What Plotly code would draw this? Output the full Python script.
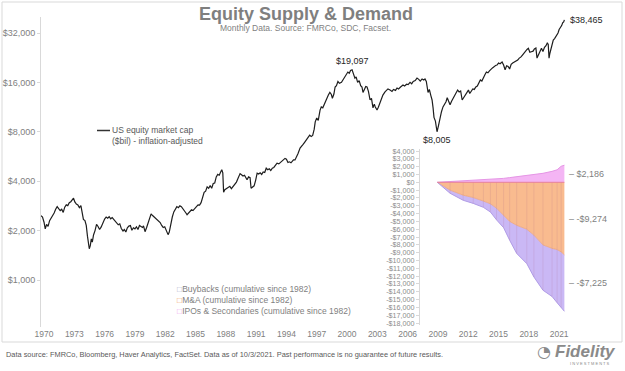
import math
import plotly.graph_objects as go

# ------------------------------------------------------------------ data
mkt_years = [
    1969.70, 1969.85, 1970.00, 1970.12, 1970.25, 1970.40, 1970.55, 1970.70, 1970.85, 1971.00,
    1971.15, 1971.30, 1971.45, 1971.60, 1971.75, 1971.90, 1972.05, 1972.20, 1972.35, 1972.50,
    1972.65, 1972.80, 1972.92, 1973.05, 1973.20, 1973.35, 1973.50, 1973.65, 1973.78, 1973.90,
    1974.05, 1974.18, 1974.30, 1974.40, 1974.48, 1974.58, 1974.68, 1974.78, 1974.90, 1975.05,
    1975.20, 1975.35, 1975.50, 1975.65, 1975.85, 1976.00, 1976.15, 1976.30, 1976.45, 1976.60,
    1976.75, 1976.90, 1977.05, 1977.20, 1977.35, 1977.50, 1977.65, 1977.82, 1977.95, 1978.10,
    1978.25, 1978.40, 1978.55, 1978.70, 1978.85, 1979.00, 1979.15, 1979.30, 1979.45, 1979.60,
    1979.75, 1979.85, 1980.00, 1980.15, 1980.30, 1980.45, 1980.60, 1980.75, 1980.90, 1981.05,
    1981.20, 1981.35, 1981.50, 1981.65, 1981.80, 1981.95, 1982.10, 1982.28, 1982.40, 1982.55,
    1982.70, 1982.85, 1983.00, 1983.15, 1983.30, 1983.45, 1983.60, 1983.75, 1983.90, 1984.05,
    1984.16, 1984.30, 1984.45, 1984.60, 1984.75, 1984.90, 1985.05, 1985.25, 1985.40, 1985.55,
    1985.70, 1985.85, 1986.00, 1986.15, 1986.30, 1986.45, 1986.60, 1986.75, 1986.90, 1987.05,
    1987.20, 1987.35, 1987.50, 1987.60, 1987.70, 1987.78, 1987.90, 1988.05, 1988.20, 1988.40,
    1988.55, 1988.70, 1988.90, 1989.05, 1989.20, 1989.41, 1989.55, 1989.70, 1989.85, 1990.00,
    1990.10, 1990.25, 1990.40, 1990.50, 1990.65, 1990.80, 1990.95, 1991.10, 1991.25, 1991.40,
    1991.55, 1991.70, 1991.85, 1992.00, 1992.15, 1992.30, 1992.45, 1992.60, 1992.75, 1992.90,
    1993.07, 1993.25, 1993.40, 1993.55, 1993.70, 1993.86, 1994.00, 1994.15, 1994.30, 1994.45,
    1994.55, 1994.70, 1994.85, 1995.00, 1995.15, 1995.35, 1995.50, 1995.65, 1995.80, 1996.00,
    1996.15, 1996.30, 1996.45, 1996.60, 1996.75, 1996.85, 1997.00, 1997.15, 1997.33, 1997.45,
    1997.60, 1997.75, 1997.90, 1998.02, 1998.15, 1998.30, 1998.45, 1998.55, 1998.70, 1998.82,
    1998.95, 1999.10, 1999.25, 1999.45, 1999.60, 1999.80, 1999.95, 2000.08, 2000.22, 2000.35,
    2000.50, 2000.62, 2000.78, 2000.90, 2001.05, 2001.20, 2001.35, 2001.48, 2001.58, 2001.72,
    2001.85, 2001.98, 2002.12, 2002.28, 2002.42, 2002.57, 2002.70, 2002.80, 2002.97, 2003.10,
    2003.27, 2003.40, 2003.55, 2003.76, 2003.90, 2004.05, 2004.26, 2004.45, 2004.60, 2004.80,
    2004.95, 2005.10, 2005.30, 2005.54, 2005.70, 2005.90, 2006.05, 2006.24, 2006.40, 2006.55,
    2006.75, 2006.93, 2007.10, 2007.25, 2007.43, 2007.60, 2007.72, 2007.85, 2008.02, 2008.15,
    2008.30, 2008.42, 2008.52, 2008.61, 2008.75, 2008.91, 2009.05, 2009.21, 2009.35, 2009.50,
    2009.65, 2009.80, 2009.92, 2010.05, 2010.20, 2010.35, 2010.50, 2010.65, 2010.80, 2010.95,
    2011.10, 2011.25, 2011.40, 2011.55, 2011.70, 2011.88, 2012.02, 2012.15, 2012.30, 2012.45,
    2012.60, 2012.75, 2012.90, 2013.05, 2013.20, 2013.35, 2013.50, 2013.65, 2013.80, 2013.95,
    2014.10, 2014.25, 2014.40, 2014.55, 2014.70, 2014.85, 2015.00, 2015.15, 2015.35, 2015.50,
    2015.65, 2015.80, 2015.95, 2016.10, 2016.25, 2016.40, 2016.55, 2016.70, 2016.90, 2017.05,
    2017.20, 2017.35, 2017.50, 2017.65, 2017.82, 2017.95, 2018.10, 2018.25, 2018.42, 2018.55,
    2018.70, 2018.81, 2018.95, 2019.10, 2019.25, 2019.40, 2019.55, 2019.70, 2019.82, 2019.92,
    2020.00, 2020.08, 2020.20, 2020.30, 2020.42, 2020.55, 2020.70, 2020.89, 2021.00, 2021.12,
    2021.25, 2021.35, 2021.45, 2021.52,
]
mkt_values = [
    2470, 2420, 2250, 2050, 2180, 2120, 2300, 2380, 2450, 2560,
    2700, 2800, 2720, 2650, 2700, 2580, 2780, 2870, 2840, 2960,
    3000, 3080, 3150, 2990, 2900, 2870, 2760, 2840, 2600, 2340,
    2300, 2150, 1850, 1700, 1550, 1620, 1780, 1700, 1880, 2000,
    2180, 2120, 2030, 2100, 2270, 2350, 2420, 2380, 2430, 2360,
    2400, 2330, 2270, 2230, 2170, 2200, 2060, 1990, 2030, 1960,
    2080, 2130, 2150, 2010, 2080, 2050, 2110, 2030, 2150, 2120,
    2090, 2140, 1970, 2080, 2240, 2380, 2530, 2470, 2420, 2380,
    2340, 2300, 2240, 2150, 2090, 2110, 2000, 1890, 1960, 2250,
    2420, 2600, 2700, 2800, 2760, 2830, 2800, 2720, 2680, 2560,
    2500, 2560, 2620, 2680, 2650, 2700, 2780, 2870, 2860, 2960,
    3200, 3420, 3480, 3700, 3620, 3760, 3620, 3870, 3900, 4250,
    4400, 4350, 4560, 4700, 4500, 3430, 3550, 3600, 3650, 3720,
    3600, 3700, 3800, 3950, 4150, 4450, 4380, 4300, 4350, 4150,
    4080, 4250, 4200, 3620, 3700, 3750, 4050, 4480, 4420, 4500,
    4400, 4550, 4520, 4800, 4700, 4760, 4650, 4800, 4850, 5000,
    5150, 5100, 5200, 5250, 5350, 5510, 5450, 5200, 5250, 5180,
    5260, 5400, 5390, 5600, 5900, 6360, 6500, 6700, 6900, 7150,
    7400, 7640, 7500, 7600, 8300, 9200, 9700, 9400, 10850, 11340,
    11200, 11800, 12200, 13000, 13400, 13900, 13500, 12800, 13600, 15000,
    15300, 16200, 15800, 16000, 16600, 17250, 18000, 18500, 18200, 18900,
    19097, 18300, 17000, 17300, 16000, 16400, 15300, 15000, 13900, 14500,
    15100, 15000, 14100, 12500, 12800, 11200, 11800, 11340, 10850, 11300,
    12000, 12600, 13400, 14000, 14200, 14600, 14370, 14100, 14500, 14300,
    14800, 14600, 15000, 15430, 15200, 15600, 15500, 16000, 15700, 16200,
    16400, 17000, 16700, 16300, 16800, 16550, 16800, 16200, 13900, 14500,
    13300, 12500, 11200, 9800, 9300, 8005, 8700, 9800, 10600, 11340,
    11700, 12200, 12900, 12300, 11700, 12300, 12800, 13200, 14000, 14370,
    14000, 14200, 12500, 12900, 13400, 13800, 14370, 13700, 14100, 14600,
    14500, 15000, 15200, 15800, 16550, 16300, 17200, 17800, 18500, 18300,
    18800, 19300, 19600, 19900, 20300, 20400, 21000, 20800, 21300, 20400,
    19100, 20200, 20000, 19300, 20600, 21000, 21200, 21500, 21900, 22500,
    22800, 23400, 24150, 24800, 25400, 25800, 24400, 24600, 24800, 25600,
    25900, 22500, 23600, 24800, 25800, 24700, 26200, 26800, 27800, 27300,
    22500, 24000, 26000, 27600, 29000, 29600, 30500, 32000, 33600, 34300,
    35500, 36900, 37400, 38465,
]

inset_years = [2008.94, 2010.20, 2011.50, 2012.50, 2013.50, 2014.20, 2014.80, 2015.50, 2016.10,
               2016.80, 2017.80, 2018.50, 2019.40, 2020.30, 2020.80, 2021.20, 2021.52]
ipo_values = [0, 80, 150, 250, 330, 400, 450, 500, 600, 700, 900, 1000, 1150, 1400, 1600, 2050, 2186]
mna_values = [0, -1000, -1650, -1950, -2400, -2750, -3300, -4200, -5000, -5500, -6000, -6750,
              -8000, -8450, -8600, -8900, -9274]
buyback_values = [0, -400, -650, -750, -800, -1050, -1500, -1600, -2400, -3600, -4400, -5350,
                  -5800, -6150, -6800, -7100, -7225]

x_tick_vals = [1970, 1973, 1976, 1979, 1982, 1985, 1988, 1991, 1994, 1997, 2000, 2003, 2006,
               2009, 2012, 2015, 2018, 2021]
x_tick_text = ["1970", "1973", "1976", "1979", "1982", "1985", "1988", "1991", "1994", "1997",
               "2000", "2003", "2006", "2009", "2012", "2015", "2018", "2021"]
y_tick_vals = [1000, 2000, 4000, 8000, 16000, 32000]
y_tick_text = ["$1,000", "$2,000", "$4,000", "$8,000", "$16,000", "$32,000"]
inset_tick_vals = [4000, 3000, 2000, 1000, 0, -1000, -2000, -3000, -4000, -5000, -6000, -7000,
                   -8000, -9000, -10000, -11000, -12000, -13000, -14000, -15000, -16000,
                   -17000, -18000]
inset_tick_text = ["$4,000", "$3,000", "$2,000", "$1,000", "$0", "-$1,000", "-$2,000", "-$3,000",
                   "-$4,000", "-$5,000", "-$6,000", "-$7,000", "-$8,000", "-$9,000", "-$10,000",
                   "-$11,000", "-$12,000", "-$13,000", "-$14,000", "-$15,000", "-$16,000",
                   "-$17,000", "-$18,000"]

# ------------------------------------------------------------------ layout geometry (pixels)
W, H = 625, 371
X_LEFT, X_RIGHT = 41, 566
PX_PER_YEAR = 10.1
X_START = 1969.70
X_END = X_START + (X_RIGHT - X_LEFT) / PX_PER_YEAR
Y_TOP, Y_BOT = 17, 327
X_AXIS_PX = 327
PX_PER_DECADE = 49.4 / math.log10(2)
REF_PX, REF_VAL = 33, 32000
y_hi = math.log10(REF_VAL) + (REF_PX - Y_TOP) / PX_PER_DECADE
y_lo = math.log10(REF_VAL) - (Y_BOT - REF_PX) / PX_PER_DECADE

IN_LEFT = 420
IN_TOP, IN_BOT = 149, 325
IN_ZERO_PX = 182.3
IN_PX_PER_K = 7.82
in_hi = (IN_ZERO_PX - IN_TOP) / IN_PX_PER_K * 1000
in_lo = (IN_ZERO_PX - IN_BOT) / IN_PX_PER_K * 1000
in_x0 = X_START + (IN_LEFT - X_LEFT) / PX_PER_YEAR


def px(x):
    return x / W


def py(y):
    return 1 - y / H


FONT = "Liberation Sans, Arial, sans-serif"
GRAY = "#7f7f7f"
AXIS = "#d9d9d9"

PINK_FILL, PINK_LINE = "#f4b5f4", "#e596e5"
ORANGE_FILL, ORANGE_LINE = "#f9bb8f", "#eda47a"
PURPLE_FILL, PURPLE_LINE = "#cab8f5", "#b09ce6"

fig = go.Figure()

fig.add_trace(go.Scatter(x=mkt_years, y=mkt_values, mode="lines",
                         line=dict(color="#1e1e1e", width=1.2), xaxis="x", yaxis="y",
                         name="US equity market cap"))

fig.add_trace(go.Scatter(x=inset_years, y=ipo_values, mode="lines", stackgroup="pos",
                         fillcolor=PINK_FILL, line=dict(color=PINK_LINE, width=1),
                         xaxis="x2", yaxis="y2", name="IPOs & Secondaries"))
fig.add_trace(go.Scatter(x=inset_years, y=mna_values, mode="lines", stackgroup="neg",
                         fillcolor=ORANGE_FILL, line=dict(color=ORANGE_LINE, width=0.8),
                         xaxis="x2", yaxis="y2", name="M&A"))
fig.add_trace(go.Scatter(x=inset_years, y=buyback_values, mode="lines", stackgroup="neg",
                         fillcolor=PURPLE_FILL, line=dict(color=PURPLE_LINE, width=1),
                         xaxis="x2", yaxis="y2", name="Buybacks"))

# thin drop lines inside the negative stack
drop_x, drop_y = [], []
for xv, m, b in zip(inset_years[1:-1], mna_values[1:-1], buyback_values[1:-1]):
    drop_x += [xv, xv, None]
    drop_y += [0, m + b, None]
fig.add_trace(go.Scatter(x=drop_x, y=drop_y, mode="lines",
                         line=dict(color="rgba(170,100,130,0.22)", width=0.7),
                         xaxis="x2", yaxis="y2", hoverinfo="skip"))
# zero line of the inset
fig.add_trace(go.Scatter(x=[inset_years[0], inset_years[-1]], y=[0, 0], mode="lines",
                         line=dict(color="#e77f9a", width=1), xaxis="x2", yaxis="y2",
                         hoverinfo="skip"))

annotations = []
# title & subtitle
annotations.append(dict(text="<b>Equity Supply & Demand</b>", x=px(306), y=py(14), xref="paper",
                        yref="paper", showarrow=False, xanchor="center", yanchor="middle",
                        font=dict(family=FONT, size=18, color=GRAY)))
annotations.append(dict(text="Monthly Data. Source: FMRCo, SDC, Facset.", x=px(305), y=py(27.5),
                        xref="paper", yref="paper", showarrow=False, xanchor="center",
                        yanchor="middle", font=dict(family=FONT, size=8.5, color=GRAY)))

# main-line legend
annotations.append(dict(text="US equity market cap<br>($bil) - inflation-adjusted", x=px(110),
                        y=py(135.5), xref="paper", yref="paper", showarrow=False,
                        xanchor="left", yanchor="middle", align="left",
                        font=dict(family=FONT, size=8.5, color="#595959")))

# area legend
legend_rows = [("Buybacks (cumulative since 1982)", "#a9b0cc", 289),
               ("M&A (cumulative since 1982)", "#f0a060", 300),
               ("IPOs & Secondaries (cumulative since 1982)", "#eea0ee", 311)]
for label, col, yy in legend_rows:
    annotations.append(dict(text=f"<span style='color:{col}'>□</span>{label}", x=px(175),
                            y=py(yy), xref="paper", yref="paper", showarrow=False,
                            xanchor="left", yanchor="middle",
                            font=dict(family=FONT, size=8.5, color=GRAY)))

# value call-outs derived from the data
i_peak = max((i for i, yv in enumerate(mkt_years) if yv < 2005), key=lambda i: mkt_values[i])
i_low = min((i for i, yv in enumerate(mkt_years) if yv > 2005), key=lambda i: mkt_values[i])
annotations.append(dict(text=f"${mkt_values[i_peak]:,.0f}", x=mkt_years[i_peak],
                        y=math.log10(mkt_values[i_peak]), xref="x", yref="y", showarrow=False,
                        xanchor="center", yanchor="bottom", yshift=2,
                        font=dict(family=FONT, size=9, color="#262626")))
annotations.append(dict(text=f"${mkt_values[i_low]:,.0f}", x=mkt_years[i_low],
                        y=math.log10(mkt_values[i_low]), xref="x", yref="y", showarrow=False,
                        xanchor="center", yanchor="top", yshift=-1,
                        font=dict(family=FONT, size=9, color="#262626")))
annotations.append(dict(text=f"${mkt_values[-1]:,.0f}", x=mkt_years[-1],
                        y=math.log10(mkt_values[-1]), xref="x", yref="y", showarrow=False,
                        xanchor="left", yanchor="middle", xshift=4, yshift=0,
                        font=dict(family=FONT, size=9, color="#262626")))


def money(v):
    return ("-$" if v < 0 else "$") + f"{abs(v):,.0f}"


end_ipo, end_mna, end_bb = ipo_values[-1], mna_values[-1], buyback_values[-1]
for val, mid in [(end_ipo, end_ipo / 2), (end_mna, end_mna / 2), (end_bb, end_mna + end_bb / 2)]:
    annotations.append(dict(text="– " + money(val), x=inset_years[-1], y=mid, xref="x2",
                            yref="y2", showarrow=False, xanchor="left", yanchor="middle",
                            xshift=3, font=dict(family=FONT, size=9, color=GRAY)))

# footnote and logo
annotations.append(dict(text="Data source: FMRCo, Bloomberg, Haver Analytics, FactSet. Data as of "
                             "10/3/2021. Past performance is no guarantee of future results.",
                        x=px(4), y=py(354), xref="paper", yref="paper", showarrow=False,
                        xanchor="left", yanchor="middle",
                        font=dict(family=FONT, size=7.4, color="#595959")))
annotations.append(dict(text="<b><i>Fidelity</i></b>", x=px(553), y=py(351), xref="paper",
                        yref="paper", showarrow=False, xanchor="left", yanchor="middle",
                        font=dict(family=FONT, size=17, color="#8a8a8a")))
annotations.append(dict(text="◔", x=px(553), y=py(351), xref="paper", yref="paper",
                        showarrow=False, xanchor="right", yanchor="middle",
                        font=dict(family="DejaVu Sans", size=16, color="#8a8a8a")))
annotations.append(dict(text="I N V E S T M E N T S", x=px(590), y=py(363), xref="paper",
                        yref="paper", showarrow=False, xanchor="center", yanchor="middle",
                        font=dict(family=FONT, size=4, color="#8a8a8a")))

shapes = [
    dict(type="rect", xref="paper", yref="paper", x0=px(2), x1=px(622), y0=py(342), y1=py(2),
         line=dict(color=AXIS, width=1), fillcolor="rgba(0,0,0,0)", layer="below"),
    dict(type="line", xref="paper", yref="paper", x0=px(97), x1=px(110), y0=py(130.5),
         y1=py(130.5), line=dict(color="#333333", width=1.5)),
]

fig.update_layout(
    width=W, height=H, autosize=False, template="none",
    margin=dict(l=0, r=0, t=0, b=0, pad=0),
    paper_bgcolor="white", plot_bgcolor="rgba(0,0,0,0)",
    showlegend=False,
    font=dict(family=FONT, size=9, color=GRAY),
    xaxis=dict(domain=[px(X_LEFT), px(X_RIGHT)], range=[X_START, X_END], anchor="free",
               position=py(X_AXIS_PX),
               tickvals=x_tick_vals, ticktext=x_tick_text, showgrid=False, zeroline=False,
               showline=False, ticks="", tickfont=dict(size=8.5, color=GRAY), automargin=False),
    yaxis=dict(type="log", domain=[py(Y_BOT), py(Y_TOP)], range=[y_lo, y_hi], anchor="x",
               tickvals=y_tick_vals, ticktext=y_tick_text, showgrid=False, zeroline=False,
               showline=True, linecolor=AXIS, linewidth=1, ticks="outside", ticklen=3,
               tickcolor=AXIS, tickfont=dict(size=9, color=GRAY), automargin=False),
    xaxis2=dict(domain=[px(IN_LEFT), px(X_RIGHT)], range=[in_x0, X_END], anchor="y2",
                visible=False, automargin=False),
    yaxis2=dict(domain=[py(IN_BOT), py(IN_TOP)], range=[in_lo, in_hi], anchor="x2",
                tickvals=inset_tick_vals, ticktext=inset_tick_text, showgrid=False,
                zeroline=False, showline=True, linecolor=AXIS, linewidth=1, ticks="outside",
                ticklen=3, tickcolor=AXIS, tickfont=dict(size=7.2, color="#8c8c8c"),
                automargin=False),
    annotations=annotations,
    shapes=shapes,
)

fig.write_html("out.html", config={"displayModeBar": False},
               post_script="document.body.style.margin='0';document.body.style.overflow='hidden';")
